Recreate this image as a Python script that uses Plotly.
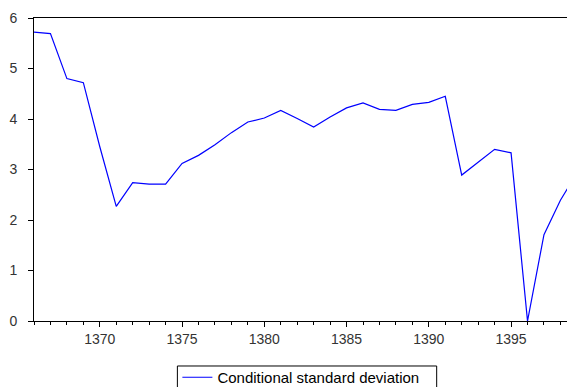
import plotly.graph_objects as go

# Annual series: conditional standard deviation (GARCH-type estimate)
years = list(range(1366, 1400))
cond_sd = [5.72, 5.69, 4.80, 4.72, 3.45, 2.27, 2.74, 2.71, 2.71, 3.12,
           3.28, 3.49, 3.73, 3.94, 4.02, 4.17, 4.01, 3.84, 4.04, 4.22,
           4.32, 4.19, 4.17, 4.29, 4.33, 4.45, 2.89, 3.14, 3.40, 3.33,
           0.00, 1.71, 2.39, 2.93]
series_name = "Conditional standard deviation"

x_ticks = [1370, 1375, 1380, 1385, 1390, 1395]
y_ticks = [0, 1, 2, 3, 4, 5, 6]

font_family = "Arial, 'Liberation Sans', sans-serif"
tick_color = "#333333"

fig = go.Figure()
fig.add_trace(go.Scatter(
    x=years, y=cond_sd, mode="lines", name=series_name,
    line=dict(color="#0000FF", width=1.2),
))

fig.update_layout(
    width=567, height=387,
    margin=dict(l=34, r=0, t=18, b=66, autoexpand=False),
    paper_bgcolor="white", plot_bgcolor="white",
    font=dict(family=font_family, size=14, color=tick_color),
    showlegend=True,
    legend=dict(
        orientation="h", x=0.269, y=-0.132, xanchor="left", yanchor="top",
        bgcolor="rgba(0,0,0,0)", borderwidth=0,
        font=dict(family=font_family, size=15, color="black"),
    ),
    # frame around the legend, running off the bottom edge
    shapes=[dict(
        type="rect", xref="paper", yref="paper",
        x0=0.269, x1=0.7555, y0=-0.1485, y1=-0.30,
        line=dict(color="black", width=1), fillcolor="rgba(0,0,0,0)",
        layer="below",
    )],
)

fig.update_xaxes(
    range=[1366, 1398.4],
    tickmode="array", tickvals=x_ticks, ticktext=[str(v) for v in x_ticks],
    ticks="outside", ticklen=5, tickwidth=1, tickcolor="black",
    minor=dict(dtick=1, tick0=1366, ticks="outside", ticklen=3,
               tickwidth=1, tickcolor="black", showgrid=False),
    showline=True, linecolor="black", linewidth=1, mirror=True,
    showgrid=False, zeroline=False, automargin=False,
    tickfont=dict(size=14, color=tick_color),
)

fig.update_yaxes(
    range=[0, 6],
    tickmode="array", tickvals=y_ticks,
    ticks="outside", ticklen=5, tickwidth=1, tickcolor="black",
    ticklabelstandoff=8,
    showline=True, linecolor="black", linewidth=1,
    showgrid=False, zeroline=False, automargin=False,
    tickfont=dict(size=14, color=tick_color),
)

fig.write_html("out.html")
